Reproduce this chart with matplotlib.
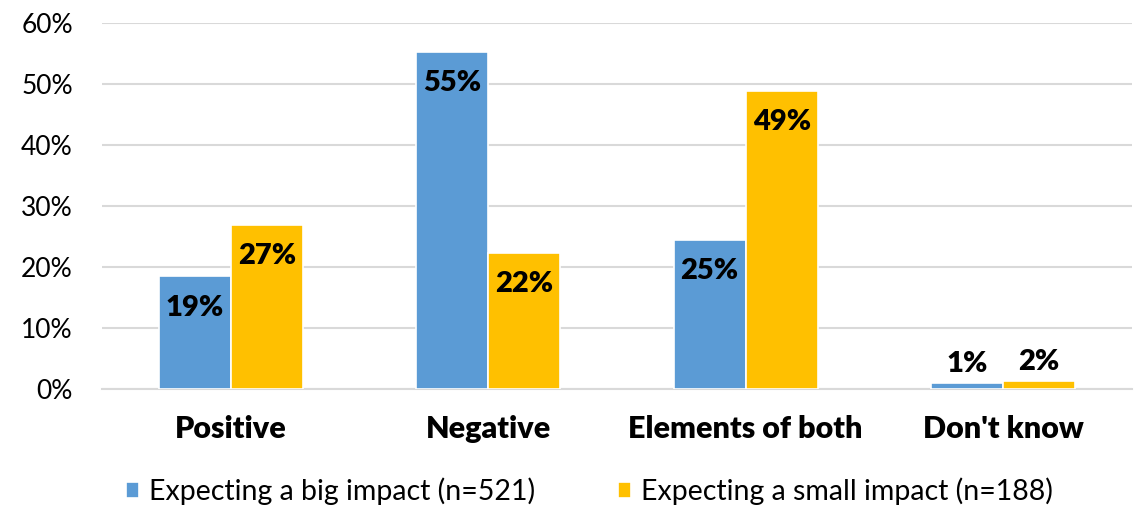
import matplotlib
matplotlib.use("Agg")
import matplotlib.pyplot as plt
import numpy as np

categories = ["Positive", "Negative", "Elements of both", "Don't know"]
big_impact = [18.4, 55.3, 24.4, 1.0]
small_impact = [26.8, 22.2, 48.8, 1.3]
big_labels = ["19%", "55%", "25%", "1%"]
small_labels = ["27%", "22%", "49%", "2%"]
series_names = ["Expecting a big impact (n=521)", "Expecting a small impact (n=188)"]
yticks = [0, 10, 20, 30, 40, 50, 60]

plt.rcParams['font.family'] = ['Lato', 'DejaVu Sans']

fig = plt.figure(figsize=(11.38, 5.08), dpi=100)
ax = fig.add_axes([0.0896, 0.235, 0.905, 0.72])

x = np.arange(len(categories))
w = 0.28
c_big = "#5b9bd5"
c_small = "#ffc000"
b1 = ax.bar(x - w/2, big_impact, w, color=c_big, edgecolor="white", linewidth=1.2,
            label=series_names[0], zorder=3)
b2 = ax.bar(x + w/2, small_impact, w, color=c_small, edgecolor="white", linewidth=1.2,
            label=series_names[1], zorder=3)

for bars, labels in ((b1, big_labels), (b2, small_labels)):
    for rect, lab in zip(bars, labels):
        h = rect.get_height()
        cx = rect.get_x() + rect.get_width()/2
        if h > 5:
            ax.annotate(lab, (cx, h), xytext=(0, -13), textcoords="offset points",
                        ha="center", va="top", fontsize=21, fontweight="heavy", color="black", zorder=4)
        else:
            ax.annotate(lab, (cx, h), xytext=(0, 4), textcoords="offset points",
                        ha="center", va="bottom", fontsize=21, fontweight="heavy", color="black", zorder=4)

ax.set_xlim(-0.5, len(categories) - 0.5)
ax.set_ylim(0, 60)
ax.set_yticks(yticks)
ax.set_yticklabels([f"{t}%" for t in yticks], fontsize=19)
ax.set_xticks(x)
ax.set_xticklabels(categories, fontsize=22, fontweight="heavy")
ax.tick_params(axis="both", length=0)
ax.tick_params(axis="x", pad=19)
ax.tick_params(axis="y", pad=21)
ax.grid(axis="y", color="#d9d9d9", linewidth=1.5, zorder=0)
for s in ["top", "right", "left"]:
    ax.spines[s].set_visible(False)
ax.spines["bottom"].set_color("#d9d9d9")
ax.spines["bottom"].set_linewidth(1.5)

leg = fig.legend(handles=[b1, b2], loc="center", bbox_to_anchor=(0.518, 0.033), ncol=2,
                 frameon=False, fontsize=20.5, handlelength=0.45, handleheight=0.45,
                 handletextpad=0.35, columnspacing=2.9)

fig.savefig("out.png", dpi=100)
